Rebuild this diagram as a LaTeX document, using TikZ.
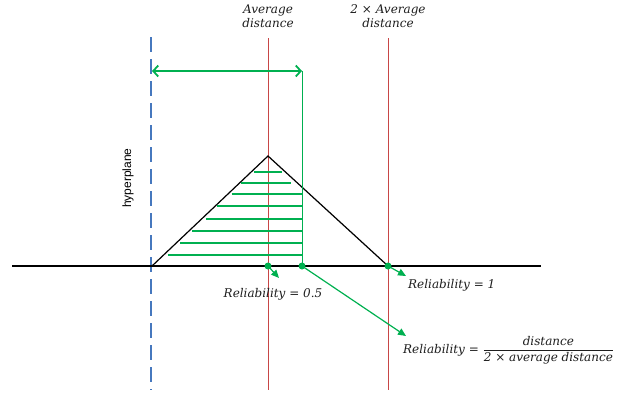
\documentclass[tikz,border=0pt]{standalone}
\usepackage{amsmath}
\usepackage{fontspec}
\newfontfamily\hsans{Liberation Sans}
\newfontfamily\mserif{DejaVu Serif}
\usetikzlibrary{arrows.meta}
\definecolor{gr}{RGB}{0,176,80}
\definecolor{rd}{RGB}{200,70,70}
\definecolor{bl}{RGB}{70,120,190}
\definecolor{tx}{RGB}{30,30,30}
\newcommand{\mt}[1]{\text{\mserif\itshape #1}}
\begin{document}
\begin{tikzpicture}[x=1pt,y=-1pt,
  redline/.style={rd, line width=0.8pt},
  hatch/.style={gr, line width=2pt},
  gline/.style={gr, line width=1pt},
  garrow/.style={gr, line width=1.2pt, -{Triangle[length=8pt,width=7pt]}},
  dot/.style={circle, fill=gr, inner sep=0pt, minimum size=7pt},
  lbl/.style={font=\mserif\itshape\fontsize{12}{14}\selectfont, text=tx, inner sep=0pt}]
\useasboundingbox (0,0) rectangle (640,394);
% vertical lines
\coordinate (hpT) at (151,37); \coordinate (hpB) at (151,390);
\draw[bl, line width=1.2pt, dash pattern=on 15pt off 7pt] (hpT) -- (hpB);
\coordinate (r1T) at (268,38); \coordinate (r1B) at (268,390);
\coordinate (r2T) at (388,38); \coordinate (r2B) at (388,390);
\draw[redline] (r1T) -- (r1B);
\draw[redline] (r2T) -- (r2B);
% axis
\coordinate (axL) at (12,266); \coordinate (axR) at (541,266);
\draw[line width=1.4pt] (axL) -- (axR);
% triangle
\coordinate (tL) at (152,266); \coordinate (tA) at (268,156); \coordinate (tR) at (388,266);
\draw[line width=1.2pt, line join=miter] (tL) -- (tA) -- (tR);
% hatch
\foreach \y/\a/\b in {172/254.3/281.7, 183/240.7/290.7, 194/231.7/301.7, 206/217.3/301.7, 219/205.7/301.7, 231/192.3/301.7, 243/180/301.7, 255/167.7/301.7}
  \draw[hatch] (\a,\y) -- (\b,\y);
% green vertical and double arrow
\coordinate (gT) at (302,71); \coordinate (gL) at (152,71);
\node[dot] (d1) at (268,266) {};
\node[dot] (d2) at (302,266) {};
\node[dot] (d3) at (388,266) {};
\draw[gline] (d2.center) -- (gT);
\draw[gr, line width=1.8pt, {Straight Barb[length=5pt,width=11pt]}-{Straight Barb[length=5pt,width=11pt]}] (gL) -- (gT);
% labels
\node[lbl] (l1) at (273,294) {Reliability = 0.5};
\node[lbl, anchor=west] (l2) at (408,285) {Reliability = 1};
\node[lbl, anchor=west] (l3) at (403,350) {Reliability = $\dfrac{\mt{distance}}{\mt{2 × average distance}}$};
\coordinate (a1) at (279,278);
\coordinate (a2) at (406,276);
\coordinate (a3) at (406,336);
\draw[garrow] (d1.center) -- (a1);
\draw[garrow] (d3.center) -- (a2);
\draw[garrow] (d2.center) -- (a3);
\node[lbl, align=center] (t1) at (268,16) {Average\\distance};
\node[lbl, align=center] (t2) at (388,16) {2 × Average\\distance};
\node[font=\hsans\fontsize{12}{14}\selectfont, rotate=90] (hp) at (128,178) {hyperplane};
\end{tikzpicture}
\end{document}
